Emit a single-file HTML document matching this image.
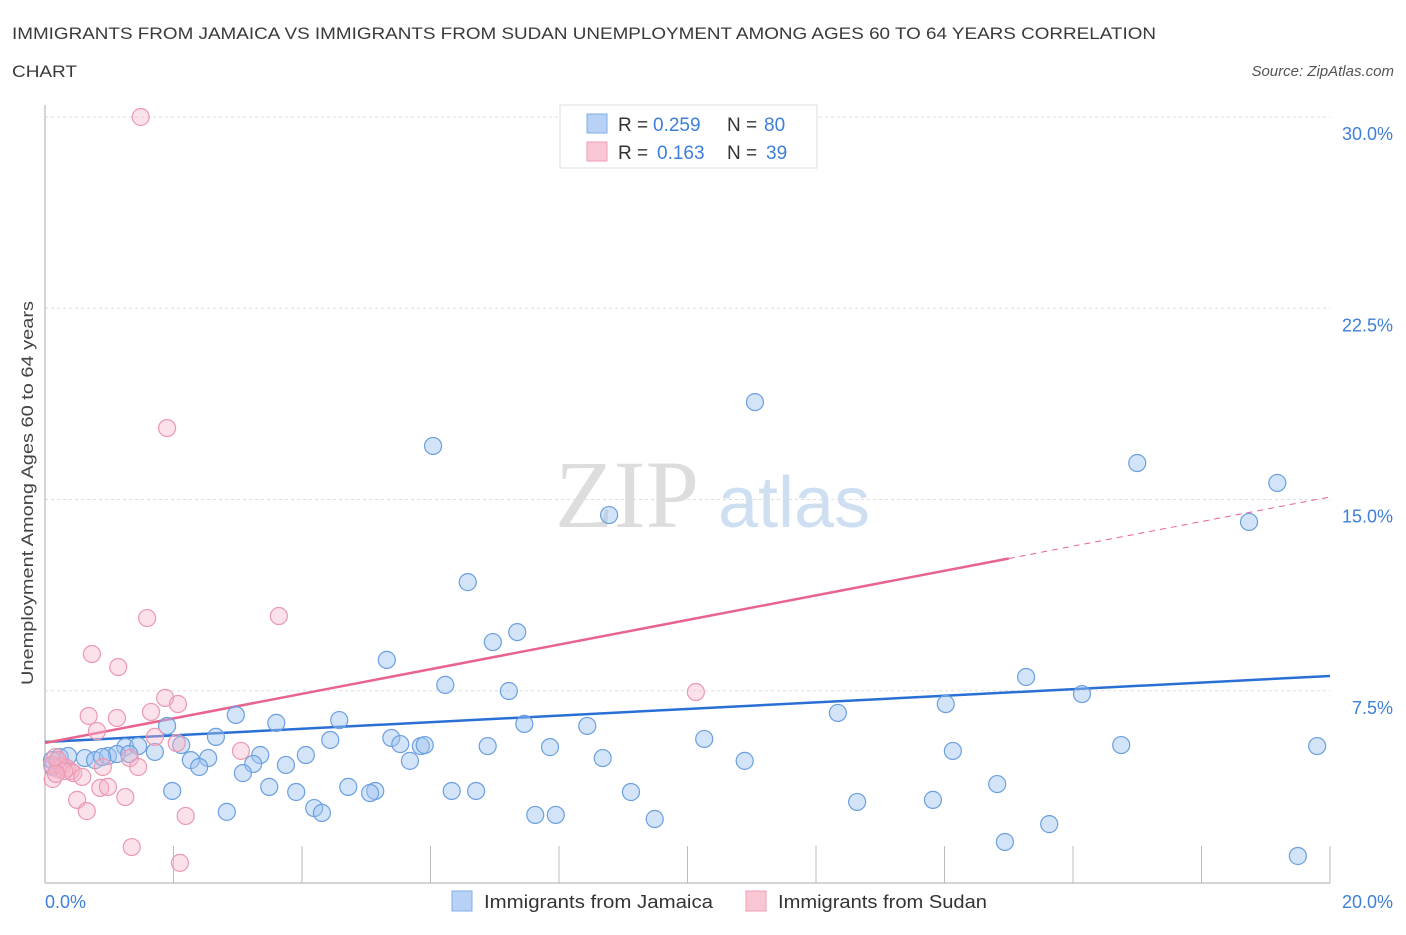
<!DOCTYPE html>
<html><head><meta charset="utf-8"><style>
body{margin:0;background:#fff;font-family:"Liberation Sans",sans-serif}
</style></head><body>
<svg id="chart" width="1406" height="930" xmlns="http://www.w3.org/2000/svg" font-family="Liberation Sans, sans-serif">
<text x="12" y="39" font-size="17" fill="#3a3a3a" textLength="1144" lengthAdjust="spacingAndGlyphs">IMMIGRANTS FROM JAMAICA VS IMMIGRANTS FROM SUDAN UNEMPLOYMENT AMONG AGES 60 TO 64 YEARS CORRELATION</text>
<text x="12" y="77" font-size="17" fill="#3a3a3a" textLength="65" lengthAdjust="spacingAndGlyphs">CHART</text>
<text x="1394" y="76" font-size="15" font-style="italic" fill="#555" text-anchor="end">Source: ZipAtlas.com</text>
<text transform="translate(33,493) rotate(-90)" font-size="17" fill="#444" text-anchor="middle" textLength="384" lengthAdjust="spacingAndGlyphs">Unemployment Among Ages 60 to 64 years</text>
<g>
<text x="555" y="527" font-size="96" font-family="Liberation Serif, serif" fill="#ddd">ZIP</text>
<text x="718" y="527" font-size="72" fill="#cfdff2">atlas</text>
</g>
<g id="grid"></g><g id="axes"></g><g id="lines"></g><g id="pts"></g>
<g>
<rect x="560" y="105" width="257" height="63" fill="#fff" stroke="#ddd"/>
<rect x="587" y="114" width="20" height="19" fill="#b7d2f5" stroke="#7faee8"/>
<rect x="587" y="142" width="20" height="19" fill="#f9c6d4" stroke="#ee9db5"/>
<text x="618" y="131" font-size="19" fill="#333">R =</text>
<text x="653" y="131" font-size="19" fill="#3d7fd9">0.259</text>
<text x="727" y="131" font-size="19" fill="#333">N =</text>
<text x="764" y="131" font-size="19" fill="#3d7fd9">80</text>
<text x="618" y="159" font-size="19" fill="#333">R =</text>
<text x="657" y="159" font-size="19" fill="#3d7fd9">0.163</text>
<text x="727" y="159" font-size="19" fill="#333">N =</text>
<text x="766" y="159" font-size="19" fill="#3d7fd9">39</text>
</g>
<g>
<rect x="452" y="891" width="20" height="20" fill="#b7d2f5" stroke="#7faee8"/>
<text x="484" y="908" font-size="18" fill="#333" textLength="229" lengthAdjust="spacingAndGlyphs">Immigrants from Jamaica</text>
<rect x="746" y="891" width="20" height="20" fill="#f9c6d4" stroke="#ee9db5"/>
<text x="778" y="908" font-size="18" fill="#333" textLength="209" lengthAdjust="spacingAndGlyphs">Immigrants from Sudan</text>
</g>
</svg>
<script>
const yTicks=[7.5,15,22.5,30];
const yTickLabels=["7.5%","15.0%","22.5%","30.0%"];
const xTickCount=10;
const blueX=[6.04,11.05,8.78,6.58,17.00,19.18,18.74,7.35,6.97,5.32,6.23,7.22,15.27,16.14,14.02,12.34,2.97,3.60,4.58,7.46,8.44,1.90,4.44,2.66,5.39,5.53,5.85,5.91,6.89,7.86,10.26,16.75,19.80,14.13,1.25,1.45,1.71,2.12,3.35,4.06,8.68,10.89,5.68,2.27,2.54,2.40,3.24,3.75,3.08,0.23,0.36,0.62,0.78,0.98,1.12,0.12,0.11,3.49,3.91,4.72,5.14,5.06,6.33,6.71,9.12,14.82,1.98,2.83,4.19,4.31,7.63,7.95,12.64,13.82,9.49,15.63,14.94,19.50,1.31,0.89];
const blueY=[17.10,18.82,14.39,11.76,16.43,15.65,14.12,9.80,9.41,8.71,7.73,7.49,8.04,7.37,6.98,6.63,6.55,6.24,6.35,6.20,6.12,6.12,5.57,5.69,5.65,5.41,5.33,5.37,5.33,5.29,5.61,5.37,5.33,5.14,5.29,5.33,5.10,5.37,4.98,4.98,4.86,4.75,4.75,4.78,4.86,4.51,4.63,4.59,4.27,4.90,4.94,4.86,4.78,4.94,5.02,4.51,4.78,3.73,3.53,3.73,3.57,3.49,3.57,3.57,3.53,3.84,3.57,2.75,2.90,2.71,2.63,2.63,3.14,3.22,2.47,2.27,1.57,1.02,5.02,4.90];
const pinkX=[1.49,1.90,3.64,1.59,0.73,1.14,1.87,2.07,10.13,0.68,1.12,1.65,0.81,2.05,3.05,1.71,1.32,0.90,1.45,0.16,0.20,0.26,0.34,0.40,0.12,0.44,0.58,0.86,0.98,1.25,0.50,0.65,2.19,1.35,2.10,0.11,0.20,0.30,0.17];
const pinkY=[30.0,17.80,10.43,10.35,8.94,8.43,7.22,6.98,7.45,6.51,6.43,6.67,5.92,5.45,5.14,5.69,4.86,4.51,4.51,4.90,4.43,4.55,4.47,4.35,4.04,4.27,4.12,3.69,3.73,3.33,3.22,2.78,2.59,1.37,0.75,4.59,4.78,4.35,4.24];
const blueTrend=[5.49,8.08];
const pinkTrend=[5.45,15.1];
const pinkSolidEnd=15.0;

const NS="http://www.w3.org/2000/svg";
const X=v=>45+v*64.25, Y=v=>882-v*25.5;
function mk(tag,attrs,parent){const e=document.createElementNS(NS,tag);for(const k in attrs)e.setAttribute(k,attrs[k]);document.getElementById(parent).appendChild(e);return e;}
yTicks.forEach((t,i)=>{
  const g=mk('line',{x1:45,x2:1330,y1:Y(t),y2:Y(t),stroke:'#ddd','stroke-dasharray':'3,3'},'grid');
  
  
  const tx=mk('text',{x:1393,y:Y(t)+23,'font-size':18,fill:'#3d7fd9','text-anchor':'end'},'grid');
  tx.textContent=yTickLabels[i];
  
  
});
const ya=mk('line',{x1:45,x2:45,y1:105,y2:883,stroke:'#aaa'},'axes');


const xa=mk('line',{x1:45,x2:1330,y1:883,y2:883,stroke:'#aaa'},'axes');


for(let k=1;k<=xTickCount;k++){
  const t=mk('line',{x1:X(k*2),x2:X(k*2),y1:846,y2:883,stroke:'#bbb'},'axes');
  
  
}
const xl0=mk('text',{x:45,y:908,'font-size':18,fill:'#3d7fd9'},'axes');xl0.textContent='0.0%';


const xl1=mk('text',{x:1393,y:908,'font-size':18,fill:'#3d7fd9','text-anchor':'end'},'axes');xl1.textContent='20.0%';


blueX.forEach((x,i)=>{
  const c=mk('circle',{cx:X(x),cy:Y(blueY[i]),r:8.5,fill:'rgba(160,196,240,0.45)',stroke:'#6a9fe0','stroke-width':1.2},'pts');
  
  
});
pinkX.forEach((x,i)=>{
  const c=mk('circle',{cx:X(x),cy:Y(pinkY[i]),r:8.5,fill:'rgba(245,180,200,0.4)',stroke:'#ec98b2','stroke-width':1.2},'pts');
  
  
});
const bl=mk('line',{x1:X(0),y1:Y(blueTrend[0]),x2:X(20),y2:Y(blueTrend[1]),stroke:'#2a6fd6','stroke-width':2.5},'lines');


const pe=pinkTrend[0]+(pinkTrend[1]-pinkTrend[0])*pinkSolidEnd/20;
const pl=mk('line',{x1:X(0),y1:Y(pinkTrend[0]),x2:X(pinkSolidEnd),y2:Y(pe),stroke:'#e8648f','stroke-width':2.5},'lines');


const pd=mk('line',{x1:X(pinkSolidEnd),y1:Y(pe),x2:X(20),y2:Y(pinkTrend[1]),stroke:'#e8648f','stroke-width':1,'stroke-dasharray':'6,5'},'lines');


</script>
</body></html>
